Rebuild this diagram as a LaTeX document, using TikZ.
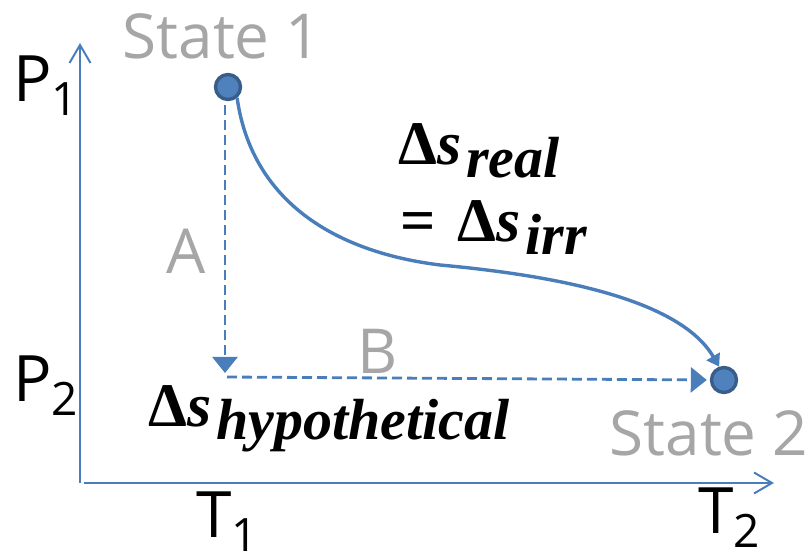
\documentclass[tikz,border=0pt]{standalone}
\usepackage{fontspec}
\setmainfont{Open Sans}
\newfontfamily\eqfont{Liberation Serif}
\usetikzlibrary{arrows.meta}
\definecolor{lineblue}{HTML}{4A7EBB}
\definecolor{dotblue}{HTML}{4F81BD}
\definecolor{dotedge}{HTML}{385D8A}
\definecolor{labelgray}{HTML}{A6A6A6}
\newcommand{\axissub}[2]{#1\raisebox{-7pt}{\fontsize{23}{23}\selectfont #2}}
\newcommand{\entropy}[1]{{\eqfont\bfseries Δ\textit{s}\hspace{2.5pt}\raisebox{-6.5pt}{\fontsize{29}{29}\selectfont\itshape #1}}}

\begin{document}
\begin{tikzpicture}[x=0.5pt,y=-0.5pt,
  statedot/.style={circle,draw=dotedge,fill=dotblue,line width=1.7pt,minimum size=12.5pt,inner sep=0pt},
  statelabel/.style={font=\fontsize{31}{36}\selectfont,text=labelgray,anchor=base,inner sep=0pt},
  axislabel/.style={font=\fontsize{32}{36}\selectfont,anchor=base west,inner sep=0pt},
  eqlabel/.style={font=\fontsize{31}{34}\selectfont,anchor=base west,inner sep=0pt},
  axisline/.style={lineblue,line width=1pt,-{Straight Barb[length=9pt,width=10.5pt]}},
  pathstep/.style={lineblue,line width=1.4pt,dash pattern=on 5pt off 2.5pt,-{Triangle[length=8pt,width=12.5pt]}},
  realpath/.style={lineblue,line width=1.7pt,-{Triangle[length=6pt,width=7.5pt]}}]
\useasboundingbox (0,0) rectangle (810,560);
\coordinate (origin) at (80,483);
\coordinate (ptop) at (80,43);
\coordinate (tend) at (774,483);
\coordinate (hyp) at (225,377);
\draw[axisline] (origin) -- (ptop);
\draw[axisline] ([xshift=2pt]origin) -- (tend);

\node[statedot] (stateone) at (228,87) {};
\node[statedot] (statetwo) at (724,380) {};
\node[statelabel] (stateonelabel) at (222,59) {State 1};
\node[statelabel] (statetwolabel) at (709,456) {State 2};
\node[statelabel] (labela) at (186,274) {A};
\node[statelabel] (labelb) at (378,374) {B};

\draw[pathstep,shorten <=2pt,shorten >=2pt] (stateone.south -| hyp) -- (hyp);
\draw[pathstep,shorten <=1pt,shorten >=1.5pt] (hyp) -- (statetwo.west);
\draw[realpath] (stateone.-50) .. controls (250,190) and (320,250) .. (440,265)
  .. controls (560,276) and (680,300) .. (statetwo.110);

\node[eqlabel] (realds) at (398,165) {\entropy{real}};
\node[eqlabel] (irrds) at (400,242) {{\eqfont\bfseries =}\hspace{0.35em}\entropy{irr}};
\node[eqlabel] (hypds) at (148,427) {\entropy{hypothetical}};

\node[axislabel] (pone) at (13,102) {\axissub{P}{1}};
\node[axislabel] (ptwo) at (13,402) {\axissub{P}{2}};
\node[axislabel] (tone) at (196,538) {\axissub{T}{1}};
\node[axislabel] (ttwo) at (698,534) {\axissub{T}{2}};
\end{tikzpicture}
\end{document}
